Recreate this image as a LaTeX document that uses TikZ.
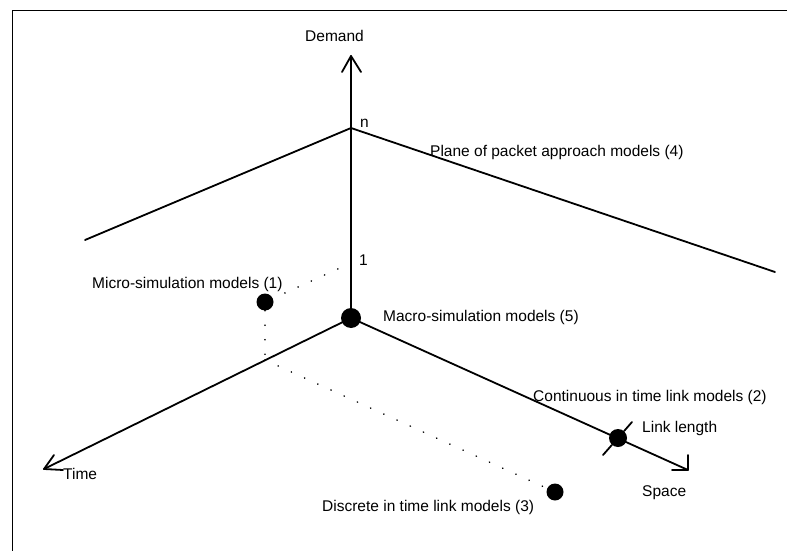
\documentclass[tikz,border=0pt]{standalone}
\usepackage{fontspec}
\setmainfont{Liberation Sans}
\begin{document}
\begin{tikzpicture}[x=1pt,y=-1pt,
  axis/.style={line width=1.8pt, line cap=round, line join=round},
  dotline/.style={line width=1.8pt, dash pattern=on 0.01pt off 14.5pt, line cap=round},
  lbl/.style={anchor=base west, inner sep=0pt, font=\fontsize{15.5}{18}\selectfont},
  bigdot/.style={circle, fill=black, inner sep=0pt, minimum size=#1}]
\useasboundingbox (0,0) rectangle (787,551);
% frame
\draw[line width=1.4pt] (12.5,551) -- (12.5,10.5) -- (787,10.5);
% coordinates
\coordinate (O) at (351,318);
\coordinate (apex) at (351,128);
\coordinate (dtip) at (351,56);
\coordinate (pl) at (85,240);
\coordinate (pr) at (775,272);
\coordinate (one) at (351,263);
\coordinate (foot) at (265,360);
\coordinate (ttip) at (44,469);
\coordinate (stip) at (688,470);
% plane
\draw[axis] (pl) -- (apex) -- (pr);
% axes
\draw[axis] (O) -- (dtip);
\draw[axis] (dtip) ++(-9,16) -- (dtip) -- ++(10,16);
\draw[axis] (O) -- (ttip);
\draw[axis] (ttip) ++(10,-14) -- (ttip) -- ++(19,1);
\draw[axis] (O) -- (stip);
\draw[axis] (stip) ++(-16,0) -- (stip) -- ++(0,-15);
% dots
\node[bigdot=20pt] (macro) at (O) {};
\node[bigdot=17pt] (micro) at (265,302) {};
\node[bigdot=17pt] (disc) at (555,492) {};
\node[bigdot=18pt] (link) at (618,438) {};
\draw[axis] (603,455) -- (link) -- (632,422);
% dotted construction lines
\draw[dotline] (one) -- (micro);
\draw[dotline] (micro) -- (foot);
\draw[dotline] (foot) -- (disc);
% labels
\node[lbl] (tDemand) at (305,42) {Demand};
\node[lbl] (tn) at (360,127) {n};
\node[lbl] (tplane) at (430,156) {Plane of packet approach models (4)};
\node[lbl] (tone) at (359,265) {1};
\node[lbl] (tmicro) at (92,288) {Micro-simulation models (1)};
\node[lbl] (tmacro) at (383,321) {Macro-simulation models (5)};
\node[lbl] (tcont) at (533,401) {Continuous in time link models (2)};
\node[lbl] (tlink) at (642,432) {Link length};
\node[lbl] (ttime) at (63,479) {Time};
\node[lbl] (tspace) at (642,496) {Space};
\node[lbl] (tdisc) at (322,511) {Discrete in time link models (3)};
\end{tikzpicture}
\end{document}
